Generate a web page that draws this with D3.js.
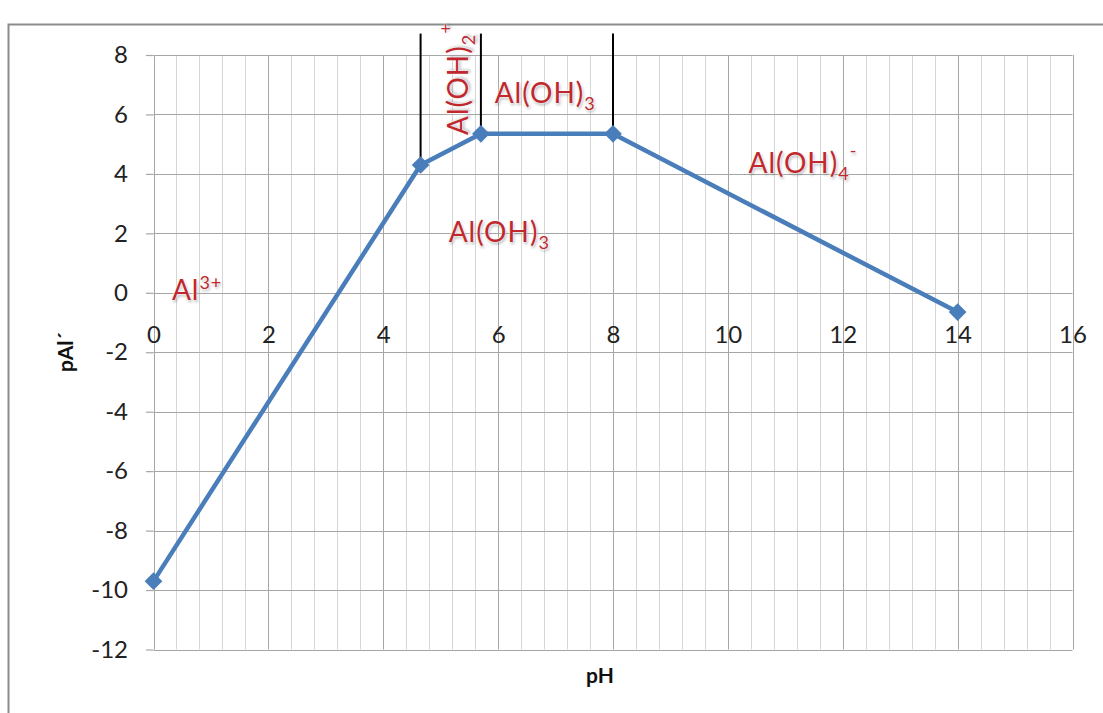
<!DOCTYPE html>
<html>
<head>
<meta charset="utf-8">
<script src="https://cdn.jsdelivr.net/npm/d3@7"></script>
<style>
  html, body { margin: 0; padding: 0; background: #fff; }
  svg { display: block; font-family: Lato, "Open Sans", sans-serif; }
  .species { fill: #c0282e; font-size: 28px; letter-spacing: 1px; text-shadow: 0 0 2px #fff, 0 0 3px #fff, 1px 2px 3px rgba(0,0,0,0.35); }
</style>
</head>
<body>
<svg id="chart" width="1103" height="713"></svg>
<script>
// Aluminium predominance diagram: pAl' as a function of pH
const pH  = [0, 4.65, 5.7, 8, 14];
const pAl = [-9.7, 4.3, 5.35, 5.35, -0.65];

// Phase boundaries (vertical guides) drawn from the curve up to this level
const boundaryPH = [4.65, 5.7, 8];
const boundaryTop = 8.72;

const xTicks = [0, 2, 4, 6, 8, 10, 12, 14, 16];
const yTicks = [-12, -10, -8, -6, -4, -2, 0, 2, 4, 6, 8];
const xMinorPerMajor = 5;

// Species labels placed in (pH, pAl') coordinates
const speciesLabels = [
  {base: "Al", sub: "", sup: "3+", x: 0.32, y: -0.24, rot: false},
  {base: "Al(OH)", sub: "3", sup: "", x: 5.94, y: 6.38, rot: false},
  {base: "Al(OH)", sub: "3", sup: "", x: 5.14, y: 1.72, rot: false},
  {base: "Al(OH)", sub: "4", sup: "-", x: 10.36, y: 4.03, rot: false},
  {base: "Al(OH)", sub: "2", sup: "+", x: 5.47, y: 5.31, rot: true}
];

const svg = d3.select("#chart");
const x = d3.scaleLinear().domain([0, 16]).range([153.5, 1072.5]);
const y = d3.scaleLinear().domain([-12, 8]).range([649.5, 55]);

// Outer chart frame
svg.append("rect")
  .attr("x", 8.5).attr("y", 24.5).attr("width", 1110).attr("height", 720)
  .attr("fill", "none").attr("stroke", "#8c8c8c").attr("stroke-width", 2);

// Vertical gridlines: minor lines between the major pH ticks
const step = (xTicks[1] - xTicks[0]) / xMinorPerMajor;
const vLines = d3.range(0, (16 / step) + 1).map(i => ({v: i * step, major: i % xMinorPerMajor === 0}));
svg.append("g").attr("class", "vgrid").selectAll("line").data(vLines).join("line")
  .attr("x1", d => Math.round(x(d.v)) + 0.5).attr("x2", d => Math.round(x(d.v)) + 0.5)
  .attr("y1", y(8)).attr("y2", y(-12))
  .attr("stroke", d => d.major ? "#a6a6a6" : "#d6d6d6")
  .attr("stroke-width", 1);

// Horizontal gridlines
svg.append("g").attr("class", "hgrid").selectAll("line").data(yTicks).join("line")
  .attr("x1", x(0)).attr("x2", x(16))
  .attr("y1", d => Math.round(y(d)) + 0.5).attr("y2", d => Math.round(y(d)) + 0.5)
  .attr("stroke", "#a6a6a6").attr("stroke-width", 1.2);

// Y axis
const yAxis = svg.append("g")
  .attr("transform", `translate(${x(0)},0)`)
  .call(d3.axisLeft(y).tickValues(yTicks).tickSize(7.5).tickPadding(18).tickFormat(d => String(d)));
yAxis.select(".domain").remove();
yAxis.selectAll(".tick line").attr("stroke", "#a6a6a6").attr("stroke-width", 1.2);
yAxis.selectAll("text").attr("font-size", 24).attr("fill", "#222").attr("font-family", "Lato, sans-serif");

// X axis labels, anchored to pAl' = 0
const xAxis = svg.append("g")
  .attr("transform", `translate(0,${y(0)})`)
  .call(d3.axisBottom(x).tickValues(xTicks).tickSize(0).tickPadding(33).tickFormat(d => String(d)));
xAxis.select(".domain").remove();
xAxis.selectAll("text").attr("font-size", 24).attr("fill", "#222").attr("font-family", "Lato, sans-serif");

// Axis titles
svg.append("text")
  .attr("transform", `translate(73,352) rotate(-90)`)
  .attr("text-anchor", "middle").attr("font-size", 21).attr("font-weight", "bold").attr("fill", "#111")
  .text("pAl´");
svg.append("text")
  .attr("x", 600).attr("y", 683)
  .attr("text-anchor", "middle").attr("font-size", 21).attr("font-weight", "bold").attr("fill", "#111")
  .text("pH");

// Phase boundary guides
svg.append("g").selectAll("line").data(boundaryPH).join("line")
  .attr("x1", d => x(d)).attr("x2", d => x(d))
  .attr("y1", d => y(pAl[pH.indexOf(d)])).attr("y2", y(boundaryTop))
  .attr("stroke", "#000").attr("stroke-width", 2);

// Curve
const pts = pH.map((v, i) => [v, pAl[i]]);
svg.append("path")
  .datum(pts)
  .attr("fill", "none").attr("stroke", "#4a7ebb").attr("stroke-width", 4.5)
  .attr("stroke-linejoin", "round")
  .attr("d", d3.line().x(d => x(d[0])).y(d => y(d[1])));

// Diamond markers
svg.append("g").selectAll("path").data(pts).join("path")
  .attr("transform", d => `translate(${x(d[0])},${y(d[1])})`)
  .attr("d", d3.symbol().type(d3.symbolDiamond2).size(200))
  .attr("fill", "#4a7ebb");

// Species labels
speciesLabels.forEach(l => {
  const t = svg.append("text").attr("class", "species");
  if (l.rot) {
    t.attr("transform", `translate(${x(l.x)},${y(l.y)}) rotate(-90)`);
  } else {
    t.attr("x", x(l.x)).attr("y", y(l.y));
  }
  t.append("tspan").text(l.base);
  if (l.sub) t.append("tspan").attr("dy", 7).attr("font-size", 18).text(l.sub);
  if (l.sup) t.append("tspan").attr("dy", l.sub ? -23 : -11).attr("font-size", 18).text(l.sup);
});
</script>
</body>
</html>
